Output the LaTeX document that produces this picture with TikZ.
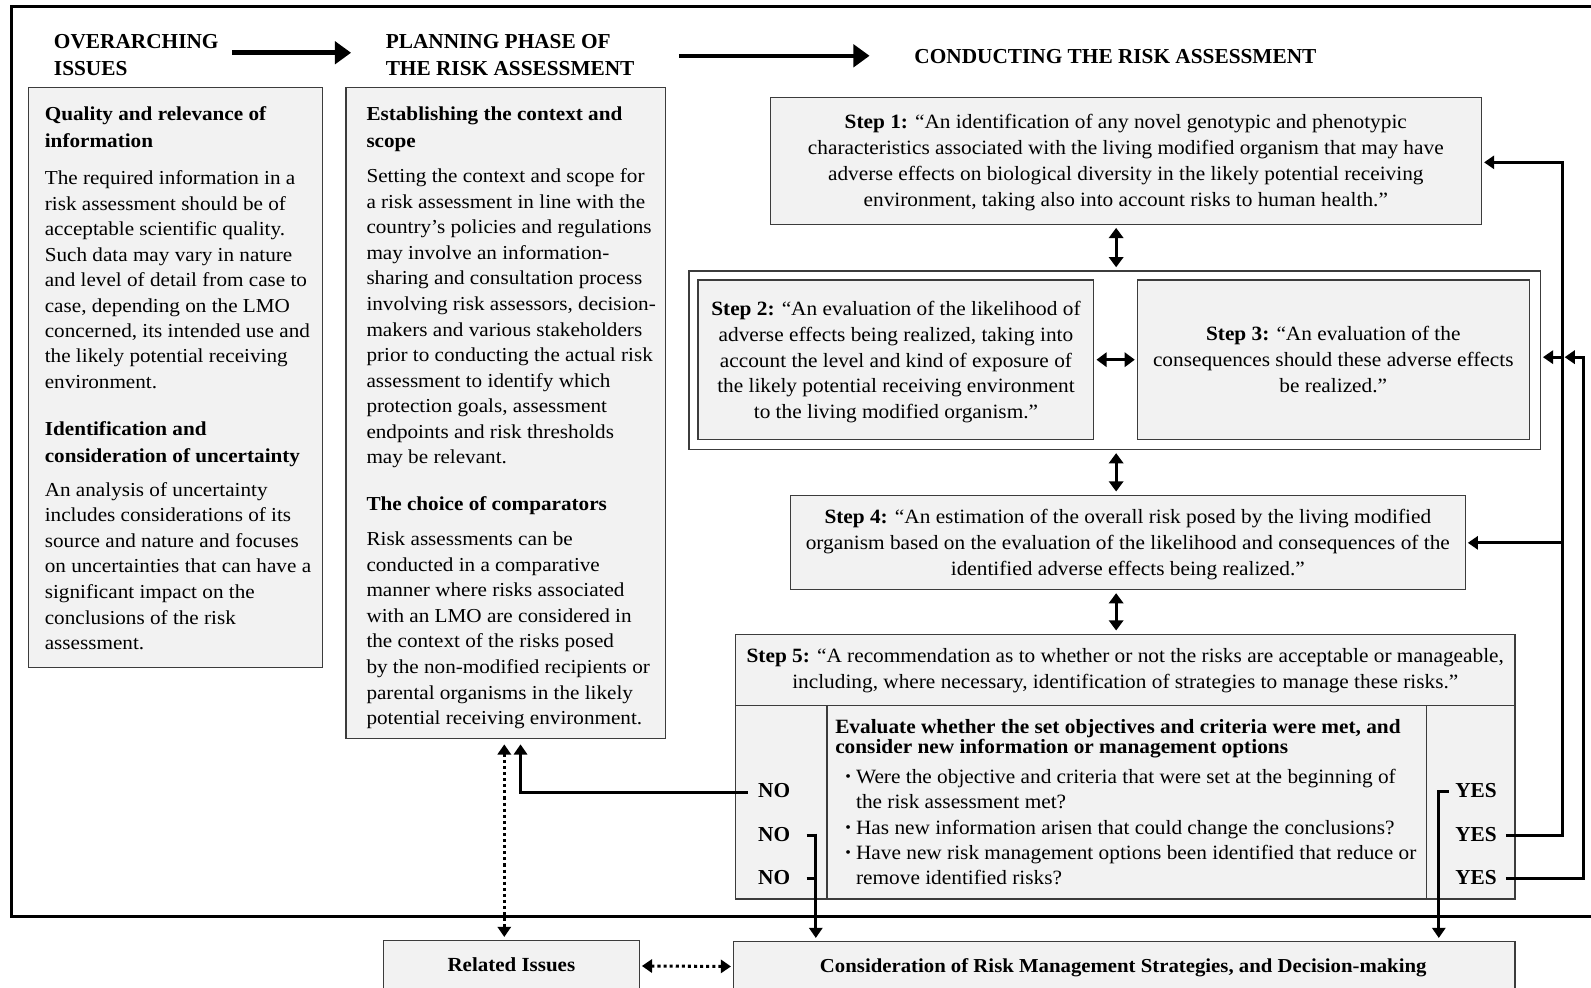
\documentclass[tikz,border=0pt]{standalone}
\usepackage{fontspec}
\setmainfont{Liberation Serif}
\newfontfamily\leftfont[FakeStretch=1.07]{Liberation Serif}
\newfontfamily\stepfont[FakeStretch=1.05]{Liberation Serif}
\usetikzlibrary{arrows.meta,calc}
\definecolor{boxfill}{HTML}{F2F2F2}
\definecolor{boxline}{HTML}{3C3C3C}
\newcommand{\tabL}[1]{\begin{tabular}[t]{@{}l@{}}#1\end{tabular}}
\newcommand{\tabC}[1]{\begin{tabular}[t]{@{}c@{}}#1\end{tabular}}
\newcommand{\fs}[2]{\fontsize{#1}{#2}\selectfont}
\newcommand{\bul}{\raisebox{0.2ex}{\fs{15}{15}•}}
\begin{document}
\begin{tikzpicture}[x=1pt,y=-1pt,
 box/.style={draw=boxline, fill=boxfill, line width=1.2pt, inner sep=0pt},
 txt/.style={inner sep=0pt, text=black},
 body/.style={txt, font=\leftfont\fs{19.5}{25.1}, anchor=base west},
 bhead/.style={txt, font=\leftfont\fs{19.5}{26.5}\bfseries, anchor=base west},
 steptxt/.style={txt, font=\stepfont\fs{20}{25.4}, anchor=base},
 hdr/.style={txt, font=\fs{21}{26}\bfseries, anchor=base west},
 lab/.style={txt, font=\fs{21}{21}\bfseries},
 conn/.style={line width=3pt, -{Triangle[length=10pt,width=13pt]}},
 dbl/.style={line width=3pt, {Triangle[length=10pt,width=14pt]}-{Triangle[length=10pt,width=14pt]}},
 dotarr/.style={line width=3pt, dash pattern=on 3pt off 3pt, {Triangle[length=10pt,width=13pt]}-{Triangle[length=10pt,width=13pt]}},
 hdrarr/.style={line width=4.5pt, -{Triangle[length=16pt,width=22pt]}},
 frame/.style={line width=3pt}]
\useasboundingbox (0,0) rectangle (1568,973);
\fill[white] (0,0) rectangle (1568,973);

% outer frame (open on the right)
\draw[frame] (1575,6) -- (11,6) -- (11,903) -- (1575,903);

% headers
\node[hdr] (ovh) at (53,48) {\tabL{OVERARCHING\\ISSUES}};
\node[hdr] (plh) at (380,48) {\tabL{PLANNING PHASE OF\\THE RISK ASSESSMENT}};
\node[hdr] (coh) at (901,63) {CONDUCTING THE RISK ASSESSMENT};
\coordinate (h1a) at (229,52);
\coordinate (h1b) at (346,52);
\coordinate (h2a) at (669,55);
\coordinate (h2b) at (857,55);
\draw[hdrarr] (h1a) -- (h1b);
\draw[hdrarr] (h2a) -- (h2b);

% left column box
\node[box, minimum width=290, minimum height=572] (qual) at (173,372) {};
\node[bhead] (qh1) at (44,119) {\tabL{Quality and relevance of\\information}};
\node[body] (qb1) at (44,182) {\tabL{The required information in a\\risk assessment should be of\\acceptable scientific quality.\\Such data may vary in nature\\and level of detail from case to\\case, depending on the LMO\\concerned, its intended use and\\the likely potential receiving\\environment.}};
\node[bhead] (qh2) at (44,429) {\tabL{Identification and\\consideration of uncertainty}};
\node[body, font=\leftfont\fs{19.5}{25.2}] (qb2) at (44,489) {\tabL{An analysis of uncertainty\\includes considerations of its\\source and nature and focuses\\on uncertainties that can have a\\significant impact on the\\conclusions of the risk\\assessment.}};

% middle column box
\node[box, minimum width=315, minimum height=642] (plan) at (498.5,407) {};
\node[bhead] (ph1) at (361,119) {\tabL{Establishing the context and\\scope}};
\node[body, font=\leftfont\fs{19.5}{25.2}] (pb1) at (361,180) {\tabL{Setting the context and scope for\\a risk assessment in line with the\\country’s policies and regulations\\may involve an information-\\sharing and consultation process\\involving risk assessors, decision-\\makers and various stakeholders\\prior to conducting the actual risk\\assessment to identify which\\protection goals, assessment\\endpoints and risk thresholds\\may be relevant.}};
\node[bhead] (ph2) at (361,503) {The choice of comparators};
\node[body, font=\leftfont\fs{19.5}{25.15}] (pb2) at (361,538) {\tabL{Risk assessments can be\\conducted in a comparative\\manner where risks associated\\with an LMO are considered in\\the context of the risks posed\\by the non-modified recipients or\\parental organisms in the likely\\potential receiving environment.}};

% steps
\node[box, minimum width=701, minimum height=125] (s1) at (1109.5,158.5) {};
\node[steptxt] (s1t) at (1109.5,127) {\tabC{\textbf{Step 1:} “An identification of any novel genotypic and phenotypic\\characteristics associated with the living modified organism that may have\\adverse effects on biological diversity in the likely potential receiving\\environment, taking also into account risks to human health.”}};

\node[draw=boxline, fill=white, line width=1.2pt, inner sep=0pt, minimum width=839, minimum height=176] (s23) at (1098.5,355) {};
\node[box, minimum width=390, minimum height=157] (s2) at (883,354.5) {};
\node[steptxt] (s2t) at (883,311) {\tabC{\textbf{Step 2:} “An evaluation of the likelihood of\\adverse effects being realized, taking into\\account the level and kind of exposure of\\the likely potential receiving environment\\to the living modified organism.”}};
\node[box, minimum width=386, minimum height=157] (s3) at (1314,354.5) {};
\node[steptxt] (s3t) at (1314,336) {\tabC{\textbf{Step 3:} “An evaluation of the\\consequences should these adverse effects\\be realized.”}};

\node[box, minimum width=665, minimum height=93] (s4) at (1111.5,534.5) {};
\node[steptxt] (s4t) at (1111.5,516) {\tabC{\textbf{Step 4:} “An estimation of the overall risk posed by the living modified\\organism based on the evaluation of the likelihood and consequences of the\\identified adverse effects being realized.”}};

\node[box, minimum width=768, minimum height=261] (s5) at (1109,755.5) {};
\node[steptxt, font=\stepfont\fs{20}{26}] (s5t) at (1109,653) {\tabC{\textbf{Step 5:} “A recommendation as to whether or not the risks are acceptable or manageable,\\including, where necessary, identification of strategies to manage these risks.”}};
\coordinate (dvl) at (725,695);
\coordinate (dvr) at (1493,695);
\draw[boxline, line width=1.2pt] (dvl) -- (dvr);
\coordinate (c1) at (815,695);
\coordinate (c2) at (1406,695);
\draw[boxline, line width=1.2pt] (c1) -- (c1 |- s5.south);
\draw[boxline, line width=1.2pt] (c2) -- (c2 |- s5.south);
\node[txt, font=\stepfont\fs{20}{20}\bfseries, anchor=base west] (evh) at (823,723) {\tabL{Evaluate whether the set objectives and criteria were met, and\\consider new information or management options}};
\node[txt, font=\stepfont\fs{20}{25}, anchor=base west] (evb) at (833,772) {\begin{tabular}[t]{@{}l@{\hspace{5pt}}l@{}}\bul & Were the objective and criteria that were set at the beginning of\\ & the risk assessment met?\\ \bul & Has new information arisen that could change the conclusions?\\ \bul & Have new risk management options been identified that reduce or\\ & remove identified risks?\end{tabular}};

% NO / YES labels
\node[lab, anchor=base west] (no1) at (747,786) {NO};
\node[lab, anchor=base west] (no2) at (747,829) {NO};
\node[lab, anchor=base west] (no3) at (747,872) {NO};
\node[lab, anchor=base west] (yes1) at (1434,786) {YES};
\node[lab, anchor=base west] (yes2) at (1434,829) {YES};
\node[lab, anchor=base west] (yes3) at (1434,872) {YES};

% bottom boxes
\node[box, minimum width=252, minimum height=50] (rel) at (504,952) {};
\node[txt, font=\stepfont\fs{19.7}{24}\bfseries, anchor=base] (relt) at (504,957) {Related Issues};
\node[box, minimum width=770, minimum height=49] (cons) at (1108,952.5) {};
\node[txt, font=\stepfont\fs{19.5}{24}\bfseries, anchor=base] (const) at (1107,958) {Consideration of Risk Management Strategies, and Decision-making};

% step connectors
\coordinate (cx) at (1100,0);
\draw[dbl, shorten <=3pt, shorten >=3pt] (s1.south -| cx) -- (s23.north -| cx);
\draw[dbl, shorten <=3pt, shorten >=3pt] (s23.south -| cx) -- (s4.north -| cx);
\draw[dbl, shorten <=3pt, shorten >=3pt] (s4.south -| cx) -- (s5.north -| cx);
\draw[dbl, shorten <=2pt, shorten >=2pt] (s2.east) -- (s3.west);

% NO connectors
\coordinate (nx1) at (513,0);
\coordinate (nx2) at (804,0);
\draw[conn, shorten <=10pt, shorten >=5pt] (no1.west |- 0,781) -| (plan.south -| nx1);
\draw[line width=3pt] (795,823) -- (nx2 |- 0,823);
\draw[line width=3pt] (795,866) -- (nx2 |- 0,866);
\draw[conn, shorten >=3pt] (nx2 |- 0,821.5) -- (cons.north -| nx2);
\draw[dotarr, shorten <=5pt, shorten >=3pt] (plan.south -| 497,0) -- (rel.north -| 497,0);
\draw[dotarr, shorten <=2pt, shorten >=2pt] (rel.east) -- (cons.west);

% YES connectors
\coordinate (yx1) at (1418,0);
\coordinate (rv) at (1540,0);
\coordinate (rv2) at (1561,0);
\draw[conn, shorten >=3pt] (1428,780) -| (cons.north -| yx1);
\draw[conn, shorten >=2pt] (1484,823) -| (rv |- 0,160) -- (s1.east |- 0,160);
\draw[conn, shorten >=2pt] (rv |- 0,352) -- (s23.east |- 0,352);
\draw[conn, shorten >=2pt] (rv |- 0,535) -- (s4.east |- 0,535);
\draw[conn, shorten >=2pt] (1484,866) -| (rv2 |- 0,352) -- (rv |- 0,352);
\end{tikzpicture}
\end{document}
